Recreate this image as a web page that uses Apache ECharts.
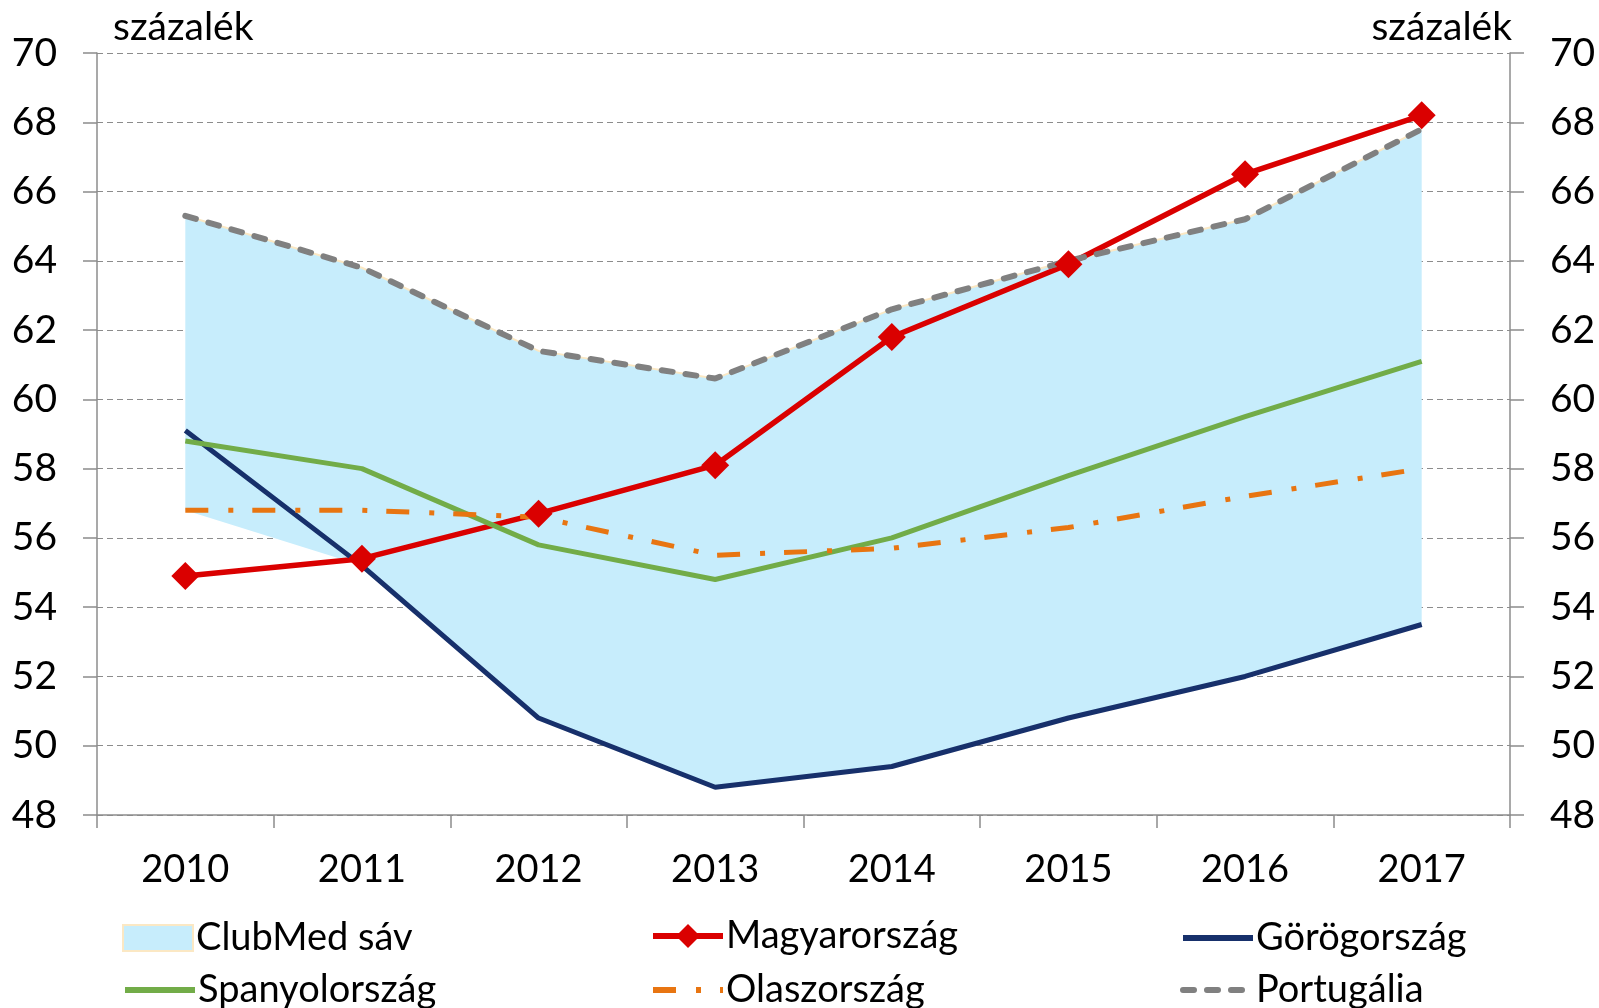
<!DOCTYPE html>
<html>
<head>
<meta charset="utf-8">
<script src="https://cdn.jsdelivr.net/npm/echarts@6/dist/echarts.min.js"></script>
<style>
  html, body { margin: 0; padding: 0; background: #fff; }
  #chart { width: 1599px; height: 1008px; }
</style>
</head>
<body>
<div id="chart"></div>
<script>
// data
const years = ["2010", "2011", "2012", "2013", "2014", "2015", "2016", "2017"];
const hungary = [54.9, 55.4, 56.7, 58.1, 61.8, 63.9, 66.5, 68.2];
const greece = [59.1, 55.2, 50.8, 48.8, 49.4, 50.8, 52.0, 53.5];
const spain = [58.8, 58.0, 55.8, 54.8, 56.0, 57.8, 59.5, 61.1];
const italy = [56.8, 56.8, 56.6, 55.5, 55.7, 56.3, 57.2, 58.0];
const portugal = [65.3, 63.8, 61.4, 60.6, 62.6, 64.0, 65.2, 67.8];

// ClubMed band = min..max of the four southern countries
const bandLow = years.map((_, i) => Math.min(greece[i], spain[i], italy[i], portugal[i]));
const bandSize = years.map((_, i) => +(Math.max(greece[i], spain[i], italy[i], portugal[i]) - bandLow[i]).toFixed(2));

const FONT = "Lato";
const chart = echarts.init(document.getElementById("chart"));

const lineSeries = (name, data, color, extra) => Object.assign({
  name: name,
  type: "line",
  data: data,
  symbol: "none",
  lineStyle: { color: color, width: 5 },
  itemStyle: { color: color },
  emphasis: { disabled: true },
  animation: false,
}, extra || {});

const legendText = { fontFamily: FONT, fontSize: 38, color: "#000" };
// lineOnly: hide the legend symbol so only the line sample is drawn
const legendAt = (left, top, name, opts) => {
  opts = opts || {};
  const lg = {
    left: left,
    top: top,
    itemWidth: 70,
    itemHeight: opts.h || 24,
    itemGap: 0,
    selectedMode: false,
    textStyle: Object.assign({ padding: [0, 0, 0, -2] }, legendText),
    lineStyle: { width: 6 },
    data: [opts.icon ? { name: name, icon: opts.icon } : name],
  };
  if (opts.lineOnly) lg.itemStyle = { opacity: 0 };
  return lg;
};

const yAxisBase = {
  type: "value",
  min: 48,
  max: 70,
  interval: 2,
  axisLine: { show: true, lineStyle: { color: "#8c8c8c", width: 1.5 } },
  axisTick: { show: true, length: 14, lineStyle: { color: "#8c8c8c", width: 1.5 } },
  axisLabel: { fontFamily: FONT, fontSize: 39, color: "#000", margin: 40 },
};

chart.setOption({
  backgroundColor: "#fff",
  animation: false,
  grid: { left: 97, right: 89, top: 53, bottom: 193 },
  xAxis: {
    type: "category",
    data: years,
    boundaryGap: true,
    axisLine: { lineStyle: { color: "#8c8c8c", width: 1.5 } },
    axisTick: { show: true, length: 13, lineStyle: { color: "#8c8c8c", width: 1.5 } },
    axisLabel: { fontFamily: FONT, fontSize: 38, color: "#000", margin: 36 },
    splitLine: { show: false },
  },
  yAxis: [
    Object.assign({}, yAxisBase, {
      position: "left",
      splitLine: { show: true, lineStyle: { color: "#8c8c8c", type: [6, 4], width: 1.2 } },
    }),
    Object.assign({}, yAxisBase, { position: "right", splitLine: { show: false } }),
  ],
  legend: [
    legendAt(117, 914, "ClubMed sáv", { icon: "rect", h: 26 }),
    legendAt(645, 912, "Magyarország", { h: 30 }),
    legendAt(1175, 914, "Görögország", { lineOnly: true }),
    legendAt(117, 966, "Spanyolország", { lineOnly: true }),
    legendAt(645, 966, "Olaszország", { lineOnly: true }),
    legendAt(1175, 966, "Portugália", { lineOnly: true }),
  ],
  graphic: [
    { type: "text", left: 113, top: 8, style: { text: "százalék", font: "39px " + FONT, fill: "#000" } },
    { type: "text", right: 87, top: 8, style: { text: "százalék", font: "39px " + FONT, fill: "#000" } },
  ],
  series: [
    lineSeries("bandBase", bandLow, "transparent", {
      stack: "band",
      lineStyle: { opacity: 0 },
      silent: true,
    }),
    lineSeries("ClubMed sáv", bandSize, "#C7EDFC", {
      stack: "band",
      lineStyle: { color: "#FBE8C4", width: 2 },
      itemStyle: { color: "#C7EDFC", borderColor: "#FBE8C4", borderWidth: 2 },
      areaStyle: { color: "#C7EDFC", opacity: 1 },
      silent: true,
    }),
    lineSeries("Magyarország", hungary, "#DA0000", {
      symbol: "diamond",
      symbolSize: 28,
      showSymbol: true,
      lineStyle: { color: "#DA0000", width: 5.5 },
    }),
    lineSeries("Görögország", greece, "#17306B"),
    lineSeries("Spanyolország", spain, "#72AC48"),
    lineSeries("Olaszország", italy, "#E87511", {
      lineStyle: { color: "#E87511", width: 5, type: [23, 20, 5, 19] },
    }),
    lineSeries("Portugália", portugal, "#808080", {
      lineStyle: { color: "#808080", width: 6, type: [11, 13], cap: "round" },
    }),
  ],
});
</script>
</body>
</html>
